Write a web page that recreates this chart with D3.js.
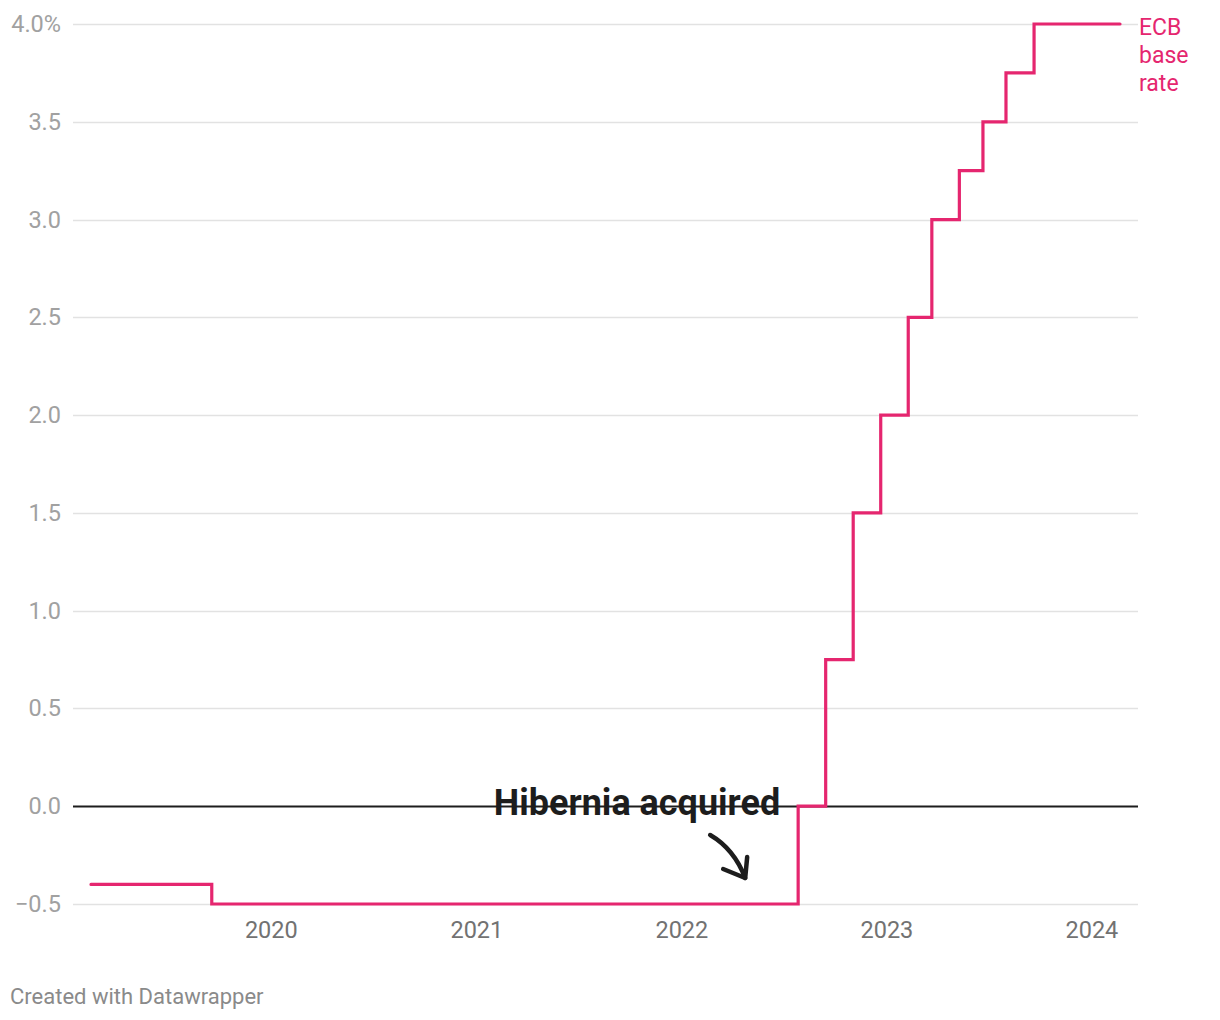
<!DOCTYPE html>
<html>
<head>
<meta charset="utf-8">
<script src="https://cdn.jsdelivr.net/npm/d3@7"></script>
<style>
  html, body { margin: 0; padding: 0; background: #fff; }
  svg { display: block; font-family: Roboto, "Noto Sans", sans-serif; }
</style>
</head>
<body>
<svg id="chart" width="1220" height="1020"></svg>
<script>
// ---- data ----
const rateDates = ["2019-02-14", "2019-09-17", "2022-07-27", "2022-09-14", "2022-11-02", "2022-12-21",
                   "2023-02-08", "2023-03-22", "2023-05-10", "2023-06-21", "2023-08-01", "2023-09-20", "2024-02-20"];
const rateValues = [-0.4, -0.5, 0.0, 0.75, 1.5, 2.0, 2.5, 3.0, 3.25, 3.5, 3.75, 4.0, 4.0];
const yTicks = [-0.5, 0, 0.5, 1.0, 1.5, 2.0, 2.5, 3.0, 3.5, 4.0];
const yTickLabels = ["\u22120.5", "0.0", "0.5", "1.0", "1.5", "2.0", "2.5", "3.0", "3.5", "4.0%"];
const xTicks = ["2020-01-01", "2021-01-01", "2022-01-01", "2023-01-01", "2024-01-01"];
const xTickLabels = ["2020", "2021", "2022", "2023", "2024"];
const seriesLabel = ["ECB", "base", "rate"];
const annotationText = "Hibernia acquired";
const annotationDate = "2022-06-25";
const footerText = "Created with Datawrapper";

// ---- setup ----
const parse = d3.timeParse("%Y-%m-%d");
const data = rateDates.map((d, i) => ({ date: parse(d), value: rateValues[i] }));

const svg = d3.select("#chart");
const pink = "#e5266f";

const x = d3.scaleTime()
  .domain([parse(rateDates[0]), parse(rateDates[rateDates.length - 1])])
  .range([91, 1120]);
const y = d3.scaleLinear().domain([-0.5, 4.0]).range([904, 24]);

const gridLeft = 73, gridRight = 1138;

// gridlines
const gy = svg.append("g").attr("class", "y-axis");
gy.selectAll("line").data(yTicks).join("line")
  .attr("x1", gridLeft).attr("x2", gridRight)
  .attr("y1", d => Math.round(y(d)) + 0.5).attr("y2", d => Math.round(y(d)) + 0.5)
  .attr("stroke", d => d === 0 ? "#1d1d1d" : "#e2e2e2")
  .attr("stroke-width", d => d === 0 ? 1.8 : 1.5);
gy.selectAll("text").data(yTicks).join("text")
  .attr("x", 61).attr("y", d => y(d) + 8)
  .attr("text-anchor", "end")
  .attr("fill", "#a1a1a1")
  .attr("font-size", 23.5)
  .text((d, i) => yTickLabels[i]);

// x labels
const gx = svg.append("g").attr("class", "x-axis");
gx.selectAll("text").data(xTicks).join("text")
  .attr("x", d => x(parse(d)))
  .attr("y", 938)
  .attr("text-anchor", "middle")
  .attr("fill", "#727272")
  .attr("font-size", 23.5)
  .text((d, i) => xTickLabels[i]);

// line
const line = d3.line()
  .x(d => x(d.date))
  .y(d => y(d.value))
  .curve(d3.curveStepAfter);
svg.append("path")
  .datum(data)
  .attr("d", line)
  .attr("fill", "none")
  .attr("stroke", pink)
  .attr("stroke-width", 3.2)
  .attr("stroke-linejoin", "miter")
  .attr("stroke-linecap", "round");

// series label
const last = data[data.length - 1];
const lbl = svg.append("text")
  .attr("x", 1139)
  .attr("y", y(last.value) + 11)
  .attr("fill", pink)
  .attr("font-size", 23);
lbl.selectAll("tspan").data(seriesLabel).join("tspan")
  .attr("x", 1139)
  .attr("dy", (d, i) => i === 0 ? 0 : 28)
  .text(d => d);

// annotation
const ax = x(parse(annotationDate));
svg.append("text")
  .attr("x", ax)
  .attr("y", y(0) + 9)
  .attr("text-anchor", "end")
  .attr("font-size", 36)
  .attr("font-weight", 700)
  .attr("fill", "#1d1d1d")
  .text(annotationText);

const arrowStart = [ax - 70, y(-0.5) - 69];
const arrowEnd = [ax - 35, y(-0.5) - 26];
svg.append("path")
  .attr("d", `M${arrowStart[0]},${arrowStart[1]} Q${arrowStart[0] + 24},${arrowStart[1] + 14} ${arrowEnd[0]},${arrowEnd[1]}`)
  .attr("fill", "none").attr("stroke", "#1d1d1d").attr("stroke-width", 4.5).attr("stroke-linecap", "round");
svg.append("path")
  .attr("d", `M${arrowEnd[0] - 22},${arrowEnd[1] - 9} L${arrowEnd[0]},${arrowEnd[1]} L${arrowEnd[0] + 2},${arrowEnd[1] - 21}`)
  .attr("fill", "none").attr("stroke", "#1d1d1d").attr("stroke-width", 4.5)
  .attr("stroke-linecap", "round").attr("stroke-linejoin", "round");

// footer
svg.append("text")
  .attr("x", 10).attr("y", 1004)
  .attr("fill", "#8a8a8a")
  .attr("font-size", 22)
  .text(footerText);
</script>
</body>
</html>
